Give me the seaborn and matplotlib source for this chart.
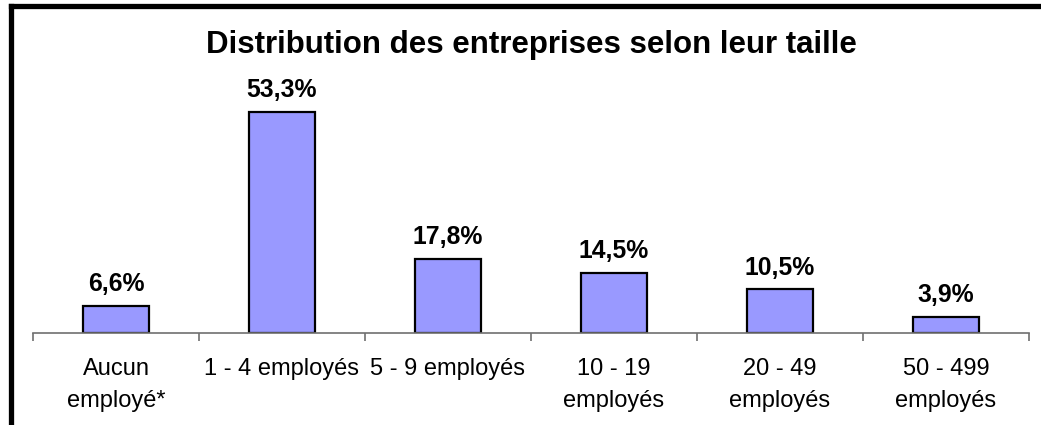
import numpy as np
import pandas as pd
import matplotlib
matplotlib.use("Agg")
import matplotlib.pyplot as plt
import seaborn as sns
from matplotlib.lines import Line2D

# --- data ---
categories = ["Aucun\nemployé*", "1 - 4 employés", "5 - 9 employés",
              "10 - 19\nemployés", "20 - 49\nemployés", "50 - 499\nemployés"]
shares = [6.6, 53.3, 17.8, 14.5, 10.5, 3.9]
title = "Distribution des entreprises selon leur taille"

# --- style ---
sns.set_theme(style="white")
plt.rcParams["font.family"] = ["Liberation Sans", "DejaVu Sans"]

df = pd.DataFrame({"cat": categories, "share": shares})

fig = plt.figure(figsize=(10.41, 4.25), dpi=100)
ax = fig.add_axes([33 / 1041, 92 / 425, 996 / 1041, 250 / 425])

sns.barplot(data=df, x="cat", y="share", color="#9999FF", saturation=1,
            width=0.40, edgecolor="black", linewidth=1.6, ax=ax)

# value labels, French decimal comma
labels = [f"{v:.1f}".replace(".", ",") + "%" for v in shares]
ax.bar_label(ax.containers[0], labels=labels, padding=7,
             fontsize=17.8, fontweight="bold", color="black")

ax.set_ylim(0, 60.2)
ax.set_xlim(-0.5, len(categories) - 0.5)
ax.set_xlabel("")
ax.set_ylabel("")
ax.set_yticks([])

for side in ["top", "right", "left"]:
    ax.spines[side].set_visible(False)
ax.spines["bottom"].set_color("#707070")
ax.spines["bottom"].set_linewidth(1.2)

# tick marks between categories, labels centred under bars
ax.set_xticks(np.arange(-0.5, len(categories)), minor=True)
ax.tick_params(axis="x", which="minor", bottom=True, length=6, width=1.2,
               color="#707070", direction="out")
ax.tick_params(axis="x", which="major", length=0, pad=18, labelsize=17,
               labelcolor="black")
for lbl in ax.get_xticklabels():
    lbl.set_linespacing(1.6)

fig.text(531 / 1041, 1 - 45 / 425, title, ha="center", va="center",
         fontsize=22.5, fontweight="bold", color="black")

# chart frame (only top and left edges visible in the crop)
fig.add_artist(Line2D([11 / 1041, 1.02], [1 - 6 / 425, 1 - 6 / 425],
                      transform=fig.transFigure, color="black", linewidth=3.8,
                      solid_capstyle="projecting"))
fig.add_artist(Line2D([11 / 1041, 11 / 1041], [1 - 6 / 425, -0.02],
                      transform=fig.transFigure, color="black", linewidth=3.8,
                      solid_capstyle="projecting"))

fig.savefig("out.png", dpi=100, facecolor="white")
